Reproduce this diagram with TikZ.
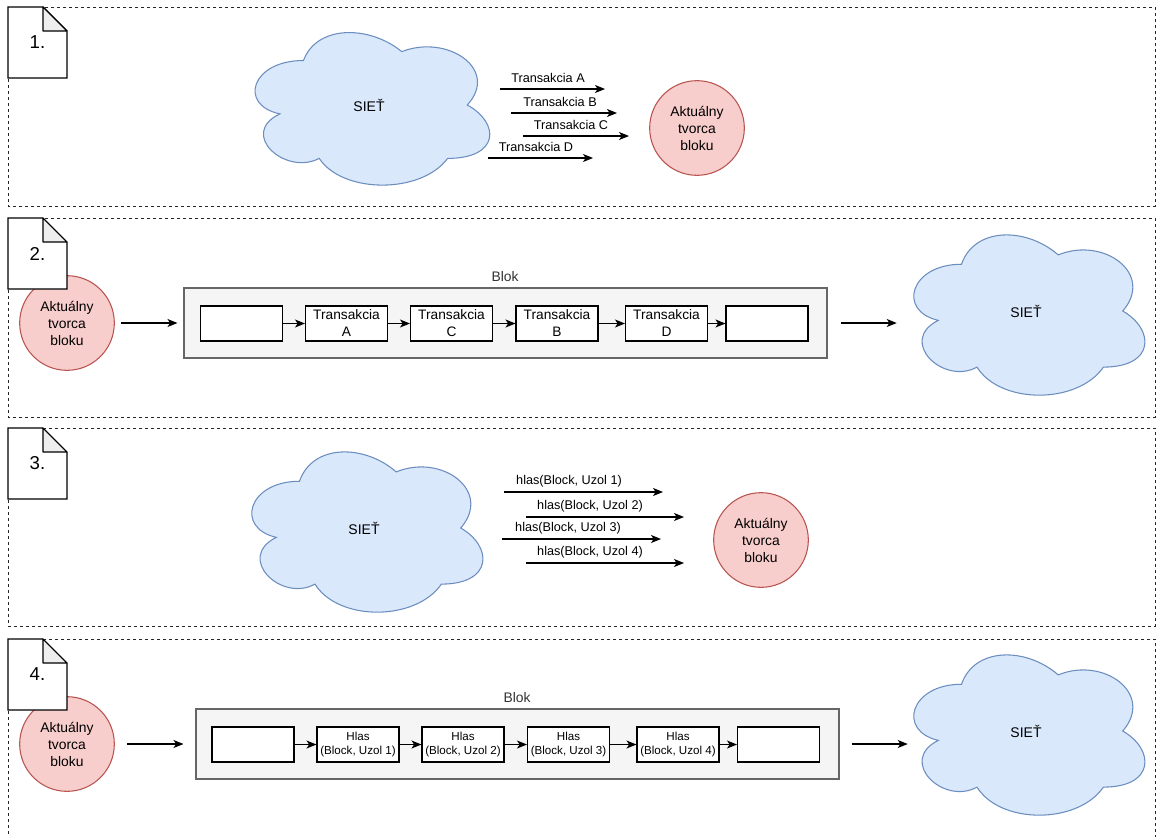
\documentclass[tikz,border=0pt]{standalone}
\usepackage{fontspec}
\setmainfont{Liberation Sans}
\usetikzlibrary{arrows.meta}
\definecolor{netfill}{HTML}{DAE8FC}
\definecolor{netdraw}{HTML}{6C8EBF}
\definecolor{crfill}{HTML}{F8CECC}
\definecolor{crdraw}{HTML}{B85450}
\definecolor{blokfill}{HTML}{F5F5F5}
\definecolor{blokdraw}{HTML}{666666}
\definecolor{bloktext}{HTML}{333333}
\definecolor{foldfill}{HTML}{EEEEEE}
\tikzset{
  panel/.style={draw=black!85,dash pattern=on 2.25pt off 2.25pt,line width=0.75pt},
  creator/.style={circle,draw=crdraw,fill=crfill,line width=0.8pt,minimum size=71pt,inner sep=0pt,align=center,font=\fontsize{10.4}{12.75}\selectfont},
  blokbox/.style={draw=blokdraw,fill=blokfill,line width=0.8pt,minimum width=482.25pt,minimum height=52.5pt,inner sep=0pt},
  bloklabel/.style={text=bloktext,font=\fontsize{10.4}{12}\selectfont},
  tbox/.style={draw,fill=white,line width=0.8pt,minimum width=61.5pt,minimum height=26.25pt,inner sep=0pt,align=center,font=\fontsize{10.3}{12.75}\selectfont},
  hbox/.style={tbox,font=\fontsize{8.7}{9.9}\selectfont},
  arr/.style={-{Stealth[length=7.5pt,width=6pt,inset=2pt]},line width=0.8pt}
}
% cloud: name, left, top, width, height (px)
\newcommand{\netcloud}[5]{%
  \begin{scope}[shift={(#2,#3)},x=#4*0.75pt,y=-#5*0.75pt]
    \draw[netdraw,fill=netfill,line width=0.8pt] (0.25,0.25) .. controls (0.05,0.25) and (0,0.5) .. (0.16,0.55)
      .. controls (0,0.66) and (0.18,0.9) .. (0.31,0.8)
      .. controls (0.4,1) and (0.7,1) .. (0.8,0.8)
      .. controls (1,0.8) and (1,0.6) .. (0.875,0.5)
      .. controls (1,0.3) and (0.8,0.1) .. (0.625,0.2)
      .. controls (0.5,0.05) and (0.3,0.05) .. (0.25,0.25) -- cycle;
  \end{scope}
  \node (#1) [minimum width=#4*0.75pt,minimum height=#5*0.75pt,inner sep=0pt,font=\fontsize{10.5}{12}\selectfont] at ({#2+#4/2},{#3+#5/2}) {SIEŤ};
}
% step note: name, top, label
\newcommand{\stepnote}[3]{%
  \draw[fill=white,line width=0.8pt] (8,#2) -- (43,#2) -- (67,#2+24) -- (67,#2+71) -- (8,#2+71) -- cycle;
  \draw[fill=foldfill,line width=0.8pt,line join=round] (43,#2) -- (43,#2+24) -- (67,#2+24) -- cycle;
  \node (#1) at (37.5,#2+35.5) [font=\fontsize{14}{16}\selectfont] {#3};
}
\begin{document}
\begin{tikzpicture}[x=0.75pt,y=-0.75pt,font=\fontsize{9.5}{11}\selectfont]
\useasboundingbox (0,0) rectangle (1156,836);
\draw[panel] (8,7) rectangle (1155,206);
\draw[panel] (8,218) rectangle (1155,417);
\draw[panel] (8,428) rectangle (1155,626);
\draw[panel] (8,639) rectangle (1155,840);

\netcloud{net1}{238}{16}{262}{178}
\netcloud{net2}{897}{217.5}{258}{187}
\netcloud{net3}{235}{434.5}{258}{187}
\netcloud{net4}{897}{637.5}{258}{187}

\node (c1) at (697,128) [creator] {Aktuálny\\tvorca\\bloku};
\node (c2) at (67,323) [creator] {Aktuálny\\tvorca\\bloku};
\node (c3) at (761,540) [creator] {Aktuálny\\tvorca\\bloku};
\node (c4) at (67,744) [creator] {Aktuálny\\tvorca\\bloku};

\stepnote{n1}{7}{1.}
\stepnote{n2}{218}{2.}
\stepnote{n3}{428}{3.}
\stepnote{n4}{639}{4.}

\foreach \k/\xa/\xb/\y/\lx in {A/500/605/89/548,B/511/617/113/560,C/523/629/136/571,D/488/593/158/536}{
  \coordinate (ta\k) at (\xa,\y);
  \coordinate (tb\k) at (\xb,\y);
  \draw[arr] (ta\k) -- (tb\k);
  \node (tl\k) at (\lx,\y-11) {Transakcia \k};
}

\node (blok2) at (505.5,323) [blokbox] {};
\node (bl2) at (505,277) [bloklabel] {Blok};
\node (p2b0) at (241.5,323.5) [tbox] {};
\node (p2b1) at (346.5,323.5) [tbox] {Transakcia\\A};
\node (p2b2) at (451.5,323.5) [tbox] {Transakcia\\C};
\node (p2b3) at (557,323.5) [tbox] {Transakcia\\B};
\node (p2b4) at (666.5,323.5) [tbox] {Transakcia\\D};
\node (p2b5) at (767,323.5) [tbox] {};
\foreach \a/\b in {0/1,1/2,2/3,3/4,4/5}
  \draw[arr] (p2b\a) -- (p2b\b);
\draw[arr,shorten <=4.5pt,shorten >=4.5pt] (c2) -- (blok2);
\draw[arr,shorten <=9.75pt] (blok2.east) -- (blok2.east -| net2.west);

\foreach \k/\xa/\xb/\y/\lx in {1/504/663/492/569,2/526/684/517/590,3/502/661/539/568,4/526/684/563/590}{
  \coordinate (ha\k) at (\xa,\y);
  \coordinate (hb\k) at (\xb,\y);
  \draw[arr] (ha\k) -- (hb\k);
  \node (hl\k) at (\lx,\y-10.5) {hlas(Block, Uzol \k)};
}

\node (blok4) at (517.5,744) [blokbox] {};
\node (bl4) at (517,698) [bloklabel] {Blok};
\node (p4b0) at (253,744.5) [hbox] {};
\node (p4b1) at (358,744.5) [hbox] {Hlas\\(Block, Uzol 1)};
\node (p4b2) at (463,744.5) [hbox] {Hlas\\(Block, Uzol 2)};
\node (p4b3) at (568.5,744.5) [hbox] {Hlas\\(Block, Uzol 3)};
\node (p4b4) at (678,744.5) [hbox] {Hlas\\(Block, Uzol 4)};
\node (p4b5) at (778.5,744.5) [hbox] {};
\foreach \a/\b in {0/1,1/2,2/3,3/4,4/5}
  \draw[arr] (p4b\a) -- (p4b\b);
\draw[arr,shorten <=9pt,shorten >=9pt] (c4) -- (blok4);
\draw[arr,shorten <=9pt,shorten >=-8.25pt] (blok4.east) -- (blok4.east -| net4.west);
\end{tikzpicture}
\end{document}
